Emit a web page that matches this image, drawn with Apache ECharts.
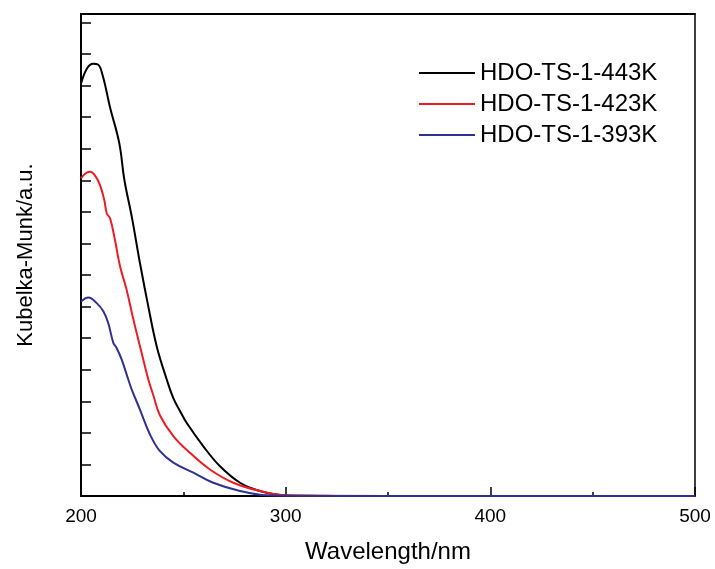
<!DOCTYPE html>
<html>
<head>
<meta charset="utf-8">
<script src="https://cdn.jsdelivr.net/npm/echarts@6/dist/echarts.min.js"></script>
<style>
html,body{margin:0;padding:0;background:#fff;}
#chart{width:715px;height:569px;}
</style>
</head>
<body>
<div id="chart"></div>
<script>
var seriesNames = ['HDO-TS-1-443K', 'HDO-TS-1-423K', 'HDO-TS-1-393K'];
var xTicks = [200, 300, 400, 500];

var wl443 = [200, 203, 206, 208.3, 210.6, 214.2, 218.7, 221.2, 224.8, 228.8, 232.9, 237.0, 241.9, 245.1, 248.5, 251.6, 259.7, 267.8, 277.7, 287.4, 297.2, 302, 350, 400, 450, 500];
var km443 = [13.06, 13.55, 13.69, 13.67, 13.32, 12.31, 11.18, 10.01, 8.85, 7.38, 6.00, 4.74, 3.69, 3.10, 2.68, 2.32, 1.58, 0.95, 0.42, 0.16, 0.03, 0.01, 0, 0, 0, 0];

var wl423 = [200, 202, 204.4, 206.8, 209.3, 211.4, 212.6, 214.2, 216.6, 219.1, 222.3, 225.6, 229.6, 232.9, 235.3, 238.6, 245.1, 253.2, 263.0, 274.4, 287.4, 300.5, 350, 400, 450, 500];
var km423 = [10.06, 10.21, 10.27, 10.16, 9.85, 9.37, 8.95, 8.80, 8.11, 7.27, 6.53, 5.59, 4.54, 3.69, 3.20, 2.55, 1.90, 1.37, 0.84, 0.42, 0.16, 0.02, 0, 0, 0, 0];

var wl393 = [200, 203.6, 207.7, 210.9, 213.3, 215.8, 217.4, 219.9, 223.1, 224.8, 228.8, 233.7, 238.6, 245.1, 254.9, 264.6, 277.7, 290.7, 300, 350, 400, 450, 500];
var km393 = [6.16, 6.29, 6.11, 5.85, 5.48, 4.85, 4.69, 4.32, 3.69, 3.37, 2.74, 1.95, 1.42, 1.06, 0.74, 0.42, 0.16, 0.02, 0.01, 0, 0, 0, 0];

var colors = ['#000000', '#ed1c24', '#2e3192'];

function pairs(xs, ys) { return xs.map(function (x, i) { return [x, ys[i]]; }); }

var chart = echarts.init(document.getElementById('chart'));
var font = 'Liberation Sans, Arial, sans-serif';
chart.setOption({
  animation: false,
  backgroundColor: '#fff',
  grid: { left: 81, right: 20, top: 14, bottom: 72, containLabel: false },
  legend: {
    orient: 'vertical', left: 419, top: 61, padding: 0,
    icon: 'rect', itemWidth: 56, itemHeight: 2, itemGap: 7,
    data: seriesNames,
    textStyle: { fontFamily: font, fontSize: 24, color: '#000', lineHeight: 24 }
  },
  xAxis: [{
    type: 'value', min: 200, max: 500, interval: 100,
    name: 'Wavelength/nm', nameLocation: 'middle', nameGap: 44,
    nameTextStyle: { fontFamily: font, fontSize: 24, color: '#000' },
    axisLine: { show: true, onZero: false, lineStyle: { color: '#000', width: 2 } },
    axisTick: { show: true, inside: true, length: 9, lineStyle: { color: '#000', width: 1.5 } },
    minorTick: { show: true, splitNumber: 2, length: 4, lineStyle: { color: '#000', width: 1.5 } },
    axisLabel: { fontFamily: font, fontSize: 19, color: '#000', margin: 11,
      formatter: function (v) { return xTicks.indexOf(v) >= 0 ? String(v) : ''; } },
    splitLine: { show: false }
  }, {
    type: 'value', min: 200, max: 500, position: 'top',
    axisLine: { show: true, onZero: false, lineStyle: { color: '#000', width: 2 } },
    axisTick: { show: false }, axisLabel: { show: false }, splitLine: { show: false }
  }],
  yAxis: [{
    type: 'value', min: 0, max: 15.27, interval: 1,
    name: 'Kubelka-Munk/a.u.', nameLocation: 'middle', nameGap: 44,
    nameTextStyle: { fontFamily: font, fontSize: 22, color: '#000' },
    axisLine: { show: true, onZero: false, lineStyle: { color: '#000', width: 2 } },
    axisTick: { show: true, inside: true, length: 10, lineStyle: { color: '#000', width: 1.5 } },
    axisLabel: { show: false },
    splitLine: { show: false }
  }, {
    type: 'value', min: 0, max: 15.27, position: 'right',
    axisLine: { show: true, onZero: false, lineStyle: { color: '#000', width: 1.5 } },
    axisTick: { show: false }, axisLabel: { show: false }, splitLine: { show: false }
  }],
  series: [
    { name: seriesNames[0], type: 'line', data: pairs(wl443, km443), smooth: 0.4, showSymbol: false, symbol: 'none', color: colors[0], lineStyle: { width: 2, color: colors[0] } },
    { name: seriesNames[1], type: 'line', data: pairs(wl423, km423), smooth: 0.4, showSymbol: false, symbol: 'none', color: colors[1], lineStyle: { width: 2, color: colors[1] } },
    { name: seriesNames[2], type: 'line', data: pairs(wl393, km393), smooth: 0.4, showSymbol: false, symbol: 'none', color: colors[2], lineStyle: { width: 2, color: colors[2] } }
  ]
});
</script>
</body>
</html>
